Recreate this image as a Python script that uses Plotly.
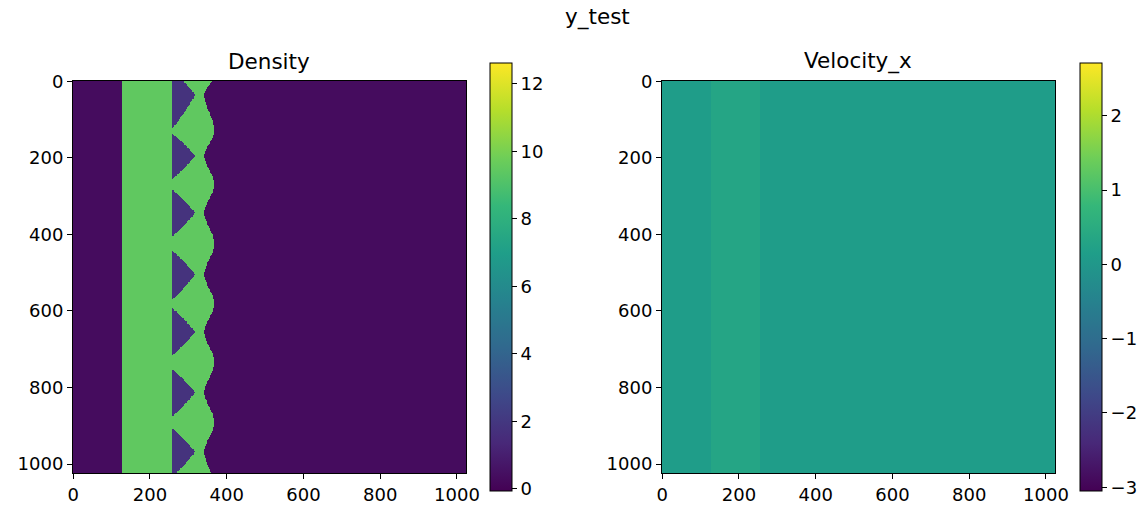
import numpy as np
import plotly.graph_objects as go

# ---- data ----
grid_n = 512                       # cells per side (image is 1024 x 1024 units)
band_edges_x = [0, 128, 256, 1024]  # vertical bands (x)
density_levels = [0.35, 9.45, 0.35]
velocity_levels = [0.12, 0.32, 0.12]
lobe_start_y = [-30, 137, 283, 442, 593, 752, 906]
lobe_tip_y = [36, 195, 344, 505, 655, 813, 968]
lobe_end_y = [124, 256, 406, 571, 717, 876, 1034]
lobe_tip_x = 318
lobe_density = 1.8
wave_inner_x = 342
wave_outer_x = 368
density_range = [-0.06, 12.62]
velocity_range = [-3.05, 2.71]
tick_vals = [0, 200, 400, 600, 800, 1000]

# ---- build fields ----
step = 1024 / grid_n
coords = np.arange(grid_n) * step + (step - 1) / 2
X, Y = np.meshgrid(coords, coords)

rho = np.full(X.shape, density_levels[0])
vel = np.full(X.shape, velocity_levels[0])
for i in range(3):
    m = (X >= band_edges_x[i]) & (X < band_edges_x[i + 1])
    rho[m] = density_levels[i]
    vel[m] = velocity_levels[i]

# right wavy boundary of the mixing zone, control points at tips / gaps
ctrl_y = [-17]
ctrl_x = [wave_outer_x]
for i in range(len(lobe_tip_y)):
    ctrl_y.append(lobe_tip_y[i]); ctrl_x.append(wave_inner_x)
    if i + 1 < len(lobe_start_y):
        ctrl_y.append((lobe_end_y[i] + lobe_start_y[i + 1]) / 2); ctrl_x.append(wave_outer_x)
ctrl_y.append(1060); ctrl_x.append(wave_outer_x)
ctrl_y = np.array(ctrl_y); ctrl_x = np.array(ctrl_x)

xr = np.empty_like(coords)
for k, yv in enumerate(coords):
    j = np.searchsorted(ctrl_y, yv) - 1
    j = min(max(j, 0), len(ctrl_y) - 2)
    t = (yv - ctrl_y[j]) / (ctrl_y[j + 1] - ctrl_y[j])
    s = (1 - np.cos(np.pi * t)) / 2
    xr[k] = ctrl_x[j] + (ctrl_x[j + 1] - ctrl_x[j]) * s
XR = xr[:, None] * np.ones((1, grid_n))
rho[(X >= band_edges_x[2]) & (X < XR)] = density_levels[1]

# light-purple lobes on the left of the mixing zone
for s0, t0, e0 in zip(lobe_start_y, lobe_tip_y, lobe_end_y):
    w = np.where(Y < t0, (Y - s0) / (t0 - s0), (e0 - Y) / (e0 - t0))
    w = np.clip(w, 0, 1)
    lobe_right = band_edges_x[2] + (lobe_tip_x - band_edges_x[2]) * w ** 0.85
    m = (Y >= s0) & (Y <= e0) & (X >= band_edges_x[2] + 2) & (X < lobe_right)
    rho[m] = lobe_density

rho = np.round(rho, 2)
vel = np.round(vel, 3)

# ---- figure ----
W, H = 1142, 508
font = "DejaVu Sans"
tick_size = 18
title_size = 21.5

def px_x(p):
    return p / W

def px_y(p):
    return 1 - p / H

fig = go.Figure()
panels = [
    ("x", "y", rho, density_range, 490, [0, 2, 4, 6, 8, 10, 12]),
    ("x2", "y2", vel, velocity_range, 1080, [-3, -2, -1, 0, 1, 2]),
]
for xa, ya, z, zr, cbx, cticks in panels:
    fig.add_trace(go.Heatmap(
        z=z, x=coords, y=coords, xaxis=xa, yaxis=ya,
        colorscale="Viridis", zmin=zr[0], zmax=zr[1], zsmooth=False,
        hoverinfo="skip",
        colorbar=dict(
            x=px_x(cbx), xanchor="left", xpad=0,
            y=px_y(277), yanchor="middle", ypad=0,
            lenmode="pixels", len=428,
            thicknessmode="pixels", thickness=22,
            outlinewidth=1, outlinecolor="black",
            tickmode="array", tickvals=cticks,
            ticks="outside", ticklen=5, tickwidth=1, tickcolor="black",
            tickfont=dict(family=font, size=tick_size, color="black"),
        ),
    ))

axis_common = dict(
    showgrid=False, zeroline=False, showline=True, linecolor="black",
    linewidth=1, mirror=True, ticks="outside", ticklen=5, tickwidth=1,
    tickcolor="black", tickmode="array", tickvals=tick_vals, automargin=False,
    tickfont=dict(family=font, size=tick_size, color="black"),
)
ann_common = dict(xref="paper", yref="paper", showarrow=False,
                  xanchor="center", yanchor="middle")
fig.update_layout(
    width=W, height=H,
    margin=dict(l=0, r=0, t=0, b=0, autoexpand=False),
    paper_bgcolor="white", plot_bgcolor="white",
    showlegend=False,
    xaxis=dict(domain=[px_x(73), px_x(466)], range=[-0.5, 1023.5], anchor="y", **axis_common),
    yaxis=dict(domain=[px_y(473), px_y(81)], range=[1023.5, -0.5], anchor="x", **axis_common),
    xaxis2=dict(domain=[px_x(662), px_x(1055)], range=[-0.5, 1023.5], anchor="y2", **axis_common),
    yaxis2=dict(domain=[px_y(473), px_y(81)], range=[1023.5, -0.5], anchor="x2", **axis_common),
    annotations=[
        dict(text="y_test", x=px_x(597), y=px_y(17),
             font=dict(family=font, size=title_size, color="black"), **ann_common),
        dict(text="Density", x=px_x(269), y=px_y(61),
             font=dict(family=font, size=title_size, color="black"), **ann_common),
        dict(text="Velocity_x", x=px_x(858), y=px_y(61),
             font=dict(family=font, size=title_size, color="black"), **ann_common),
    ],
)

fig.write_html("out.html")
